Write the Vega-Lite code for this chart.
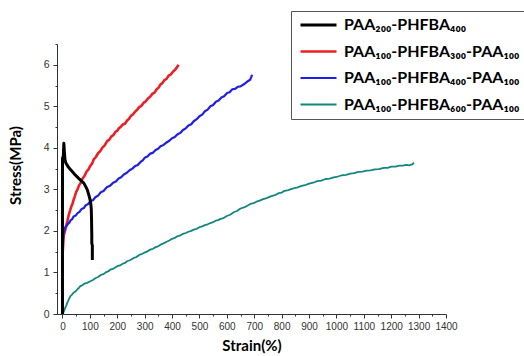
{
  "$schema": "https://vega.github.io/schema/vega-lite/v6.json",
  "width": 389,
  "height": 270,
  "autosize": "none",
  "padding": {"left": 57, "top": 44, "right": 78, "bottom": 42},
  "background": "white",
  "config": {"view": {"stroke": null}, "font": "Liberation Sans"},
  "data": {"values": [
    {"series":"r","strain":0,"stress":0},{"series":"r","strain":0,"stress":1.4},{"series":"r","strain":3,"stress":1.72},{"series":"r","strain":5,"stress":1.9},{"series":"r","strain":8,"stress":1.97},{"series":"r","strain":11,"stress":2.04},{"series":"r","strain":15,"stress":2.16},{"series":"r","strain":18,"stress":2.24},{"series":"r","strain":22,"stress":2.36},{"series":"r","strain":25,"stress":2.43},{"series":"r","strain":29,"stress":2.52},{"series":"r","strain":33,"stress":2.6},{"series":"r","strain":37,"stress":2.66},{"series":"r","strain":41,"stress":2.76},{"series":"r","strain":45,"stress":2.83},{"series":"r","strain":50,"stress":2.94},{"series":"r","strain":55,"stress":3.0},{"series":"r","strain":60,"stress":3.09},{"series":"r","strain":66,"stress":3.15},{"series":"r","strain":72,"stress":3.25},{"series":"r","strain":80,"stress":3.32},{"series":"r","strain":88,"stress":3.43},{"series":"r","strain":95,"stress":3.48},{"series":"r","strain":102,"stress":3.57},{"series":"r","strain":108,"stress":3.62},{"series":"r","strain":114,"stress":3.72},{"series":"r","strain":122,"stress":3.78},{"series":"r","strain":130,"stress":3.87},{"series":"r","strain":138,"stress":3.92},{"series":"r","strain":145,"stress":4.0},{"series":"r","strain":154,"stress":4.06},{"series":"r","strain":163,"stress":4.16},{"series":"r","strain":170,"stress":4.19},{"series":"r","strain":178,"stress":4.27},{"series":"r","strain":186,"stress":4.31},{"series":"r","strain":194,"stress":4.39},{"series":"r","strain":200,"stress":4.41},{"series":"r","strain":206,"stress":4.47},{"series":"r","strain":213,"stress":4.51},{"series":"r","strain":220,"stress":4.56},{"series":"r","strain":228,"stress":4.58},{"series":"r","strain":236,"stress":4.66},{"series":"r","strain":243,"stress":4.7},{"series":"r","strain":250,"stress":4.77},{"series":"r","strain":258,"stress":4.81},{"series":"r","strain":265,"stress":4.87},{"series":"r","strain":273,"stress":4.92},{"series":"r","strain":280,"stress":4.98},{"series":"r","strain":288,"stress":5.01},{"series":"r","strain":297,"stress":5.09},{"series":"r","strain":304,"stress":5.12},{"series":"r","strain":312,"stress":5.19},{"series":"r","strain":320,"stress":5.23},{"series":"r","strain":328,"stress":5.3},{"series":"r","strain":336,"stress":5.33},{"series":"r","strain":344,"stress":5.41},{"series":"r","strain":351,"stress":5.45},{"series":"r","strain":358,"stress":5.53},{"series":"r","strain":365,"stress":5.56},{"series":"r","strain":372,"stress":5.63},{"series":"r","strain":380,"stress":5.66},{"series":"r","strain":388,"stress":5.74},{"series":"r","strain":396,"stress":5.77},{"series":"r","strain":404,"stress":5.84},{"series":"r","strain":411,"stress":5.88},{"series":"r","strain":419,"stress":5.95},{"series":"r","strain":424,"stress":6.0},
    {"series":"b","strain":0,"stress":0},{"series":"b","strain":0,"stress":1.75},{"series":"b","strain":2,"stress":1.82},{"series":"b","strain":4,"stress":1.95},{"series":"b","strain":7,"stress":2.02},{"series":"b","strain":11,"stress":2.1},{"series":"b","strain":15,"stress":2.12},{"series":"b","strain":20,"stress":2.17},{"series":"b","strain":25,"stress":2.2},{"series":"b","strain":30,"stress":2.26},{"series":"b","strain":35,"stress":2.28},{"series":"b","strain":41,"stress":2.35},{"series":"b","strain":48,"stress":2.37},{"series":"b","strain":55,"stress":2.43},{"series":"b","strain":62,"stress":2.46},{"series":"b","strain":70,"stress":2.53},{"series":"b","strain":78,"stress":2.55},{"series":"b","strain":85,"stress":2.62},{"series":"b","strain":94,"stress":2.65},{"series":"b","strain":102,"stress":2.72},{"series":"b","strain":111,"stress":2.74},{"series":"b","strain":120,"stress":2.81},{"series":"b","strain":130,"stress":2.85},{"series":"b","strain":140,"stress":2.93},{"series":"b","strain":150,"stress":2.96},{"series":"b","strain":163,"stress":3.06},{"series":"b","strain":174,"stress":3.09},{"series":"b","strain":185,"stress":3.16},{"series":"b","strain":195,"stress":3.19},{"series":"b","strain":205,"stress":3.26},{"series":"b","strain":214,"stress":3.29},{"series":"b","strain":224,"stress":3.36},{"series":"b","strain":235,"stress":3.4},{"series":"b","strain":245,"stress":3.46},{"series":"b","strain":255,"stress":3.5},{"series":"b","strain":265,"stress":3.56},{"series":"b","strain":275,"stress":3.59},{"series":"b","strain":285,"stress":3.66},{"series":"b","strain":293,"stress":3.7},{"series":"b","strain":300,"stress":3.76},{"series":"b","strain":310,"stress":3.79},{"series":"b","strain":320,"stress":3.86},{"series":"b","strain":330,"stress":3.88},{"series":"b","strain":340,"stress":3.95},{"series":"b","strain":349,"stress":3.98},{"series":"b","strain":358,"stress":4.04},{"series":"b","strain":369,"stress":4.07},{"series":"b","strain":380,"stress":4.13},{"series":"b","strain":390,"stress":4.17},{"series":"b","strain":400,"stress":4.23},{"series":"b","strain":410,"stress":4.26},{"series":"b","strain":419,"stress":4.32},{"series":"b","strain":430,"stress":4.36},{"series":"b","strain":440,"stress":4.43},{"series":"b","strain":450,"stress":4.47},{"series":"b","strain":460,"stress":4.54},{"series":"b","strain":470,"stress":4.57},{"series":"b","strain":479,"stress":4.64},{"series":"b","strain":490,"stress":4.69},{"series":"b","strain":500,"stress":4.76},{"series":"b","strain":510,"stress":4.8},{"series":"b","strain":520,"stress":4.88},{"series":"b","strain":530,"stress":4.92},{"series":"b","strain":540,"stress":5.0},{"series":"b","strain":550,"stress":5.03},{"series":"b","strain":560,"stress":5.11},{"series":"b","strain":570,"stress":5.14},{"series":"b","strain":580,"stress":5.21},{"series":"b","strain":590,"stress":5.24},{"series":"b","strain":601,"stress":5.32},{"series":"b","strain":610,"stress":5.34},{"series":"b","strain":620,"stress":5.41},{"series":"b","strain":630,"stress":5.42},{"series":"b","strain":640,"stress":5.47},{"series":"b","strain":650,"stress":5.48},{"series":"b","strain":662,"stress":5.53},{"series":"b","strain":670,"stress":5.57},{"series":"b","strain":678,"stress":5.61},{"series":"b","strain":685,"stress":5.64},{"series":"b","strain":690,"stress":5.72},{"series":"b","strain":692,"stress":5.76},
    {"series":"t","strain":0,"stress":0},{"series":"t","strain":5,"stress":0.06},{"series":"t","strain":10,"stress":0.15},{"series":"t","strain":14,"stress":0.2},{"series":"t","strain":17,"stress":0.27},{"series":"t","strain":20,"stress":0.3},{"series":"t","strain":23,"stress":0.35},{"series":"t","strain":26,"stress":0.39},{"series":"t","strain":29,"stress":0.43},{"series":"t","strain":34,"stress":0.46},{"series":"t","strain":40,"stress":0.51},{"series":"t","strain":47,"stress":0.54},{"series":"t","strain":54,"stress":0.59},{"series":"t","strain":60,"stress":0.63},{"series":"t","strain":65,"stress":0.67},{"series":"t","strain":72,"stress":0.69},{"series":"t","strain":80,"stress":0.73},{"series":"t","strain":90,"stress":0.75},{"series":"t","strain":102,"stress":0.79},{"series":"t","strain":111,"stress":0.82},{"series":"t","strain":120,"stress":0.86},{"series":"t","strain":130,"stress":0.89},{"series":"t","strain":140,"stress":0.94},{"series":"t","strain":150,"stress":0.96},{"series":"t","strain":160,"stress":1.01},{"series":"t","strain":168,"stress":1.03},{"series":"t","strain":175,"stress":1.07},{"series":"t","strain":188,"stress":1.1},{"series":"t","strain":200,"stress":1.15},{"series":"t","strain":210,"stress":1.17},{"series":"t","strain":220,"stress":1.21},{"series":"t","strain":228,"stress":1.23},{"series":"t","strain":236,"stress":1.27},{"series":"t","strain":248,"stress":1.3},{"series":"t","strain":260,"stress":1.35},{"series":"t","strain":270,"stress":1.37},{"series":"t","strain":280,"stress":1.42},{"series":"t","strain":288,"stress":1.44},{"series":"t","strain":297,"stress":1.47},{"series":"t","strain":308,"stress":1.5},{"series":"t","strain":320,"stress":1.55},{"series":"t","strain":330,"stress":1.57},{"series":"t","strain":340,"stress":1.61},{"series":"t","strain":349,"stress":1.63},{"series":"t","strain":358,"stress":1.67},{"series":"t","strain":369,"stress":1.7},{"series":"t","strain":380,"stress":1.74},{"series":"t","strain":390,"stress":1.77},{"series":"t","strain":400,"stress":1.81},{"series":"t","strain":410,"stress":1.83},{"series":"t","strain":419,"stress":1.87},{"series":"t","strain":430,"stress":1.89},{"series":"t","strain":440,"stress":1.93},{"series":"t","strain":450,"stress":1.95},{"series":"t","strain":460,"stress":1.98},{"series":"t","strain":470,"stress":2.0},{"series":"t","strain":479,"stress":2.03},{"series":"t","strain":490,"stress":2.05},{"series":"t","strain":500,"stress":2.09},{"series":"t","strain":510,"stress":2.11},{"series":"t","strain":520,"stress":2.14},{"series":"t","strain":530,"stress":2.16},{"series":"t","strain":540,"stress":2.19},{"series":"t","strain":550,"stress":2.21},{"series":"t","strain":560,"stress":2.25},{"series":"t","strain":568,"stress":2.26},{"series":"t","strain":577,"stress":2.29},{"series":"t","strain":588,"stress":2.31},{"series":"t","strain":600,"stress":2.36},{"series":"t","strain":612,"stress":2.39},{"series":"t","strain":625,"stress":2.45},{"series":"t","strain":637,"stress":2.48},{"series":"t","strain":650,"stress":2.54},{"series":"t","strain":668,"stress":2.58},{"series":"t","strain":686,"stress":2.65},{"series":"t","strain":698,"stress":2.67},{"series":"t","strain":710,"stress":2.71},{"series":"t","strain":720,"stress":2.73},{"series":"t","strain":730,"stress":2.76},{"series":"t","strain":745,"stress":2.79},{"series":"t","strain":760,"stress":2.83},{"series":"t","strain":775,"stress":2.86},{"series":"t","strain":790,"stress":2.91},{"series":"t","strain":800,"stress":2.92},{"series":"t","strain":808,"stress":2.96},{"series":"t","strain":824,"stress":2.98},{"series":"t","strain":840,"stress":3.02},{"series":"t","strain":855,"stress":3.04},{"series":"t","strain":870,"stress":3.08},{"series":"t","strain":885,"stress":3.1},{"series":"t","strain":900,"stress":3.14},{"series":"t","strain":915,"stress":3.16},{"series":"t","strain":930,"stress":3.2},{"series":"t","strain":945,"stress":3.21},{"series":"t","strain":960,"stress":3.25},{"series":"t","strain":975,"stress":3.26},{"series":"t","strain":990,"stress":3.29},{"series":"t","strain":1005,"stress":3.31},{"series":"t","strain":1020,"stress":3.34},{"series":"t","strain":1035,"stress":3.35},{"series":"t","strain":1051,"stress":3.38},{"series":"t","strain":1065,"stress":3.39},{"series":"t","strain":1080,"stress":3.42},{"series":"t","strain":1095,"stress":3.43},{"series":"t","strain":1110,"stress":3.45},{"series":"t","strain":1125,"stress":3.46},{"series":"t","strain":1140,"stress":3.48},{"series":"t","strain":1155,"stress":3.49},{"series":"t","strain":1173,"stress":3.52},{"series":"t","strain":1187,"stress":3.52},{"series":"t","strain":1200,"stress":3.55},{"series":"t","strain":1215,"stress":3.55},{"series":"t","strain":1230,"stress":3.57},{"series":"t","strain":1242,"stress":3.57},{"series":"t","strain":1255,"stress":3.59},{"series":"t","strain":1266,"stress":3.58},{"series":"t","strain":1276,"stress":3.6},{"series":"t","strain":1283,"stress":3.64},
    {"series":"k","strain":0,"stress":0},{"series":"k","strain":0,"stress":3.75},{"series":"k","strain":3,"stress":3.8},{"series":"k","strain":5,"stress":4.11},{"series":"k","strain":7,"stress":3.9},{"series":"k","strain":9,"stress":3.72},{"series":"k","strain":12,"stress":3.64},{"series":"k","strain":20,"stress":3.55},{"series":"k","strain":30,"stress":3.47},{"series":"k","strain":45,"stress":3.36},{"series":"k","strain":60,"stress":3.26},{"series":"k","strain":78,"stress":3.15},{"series":"k","strain":90,"stress":3.0},{"series":"k","strain":97,"stress":2.85},{"series":"k","strain":102,"stress":2.72},{"series":"k","strain":105,"stress":2.55},{"series":"k","strain":106,"stress":2.3},{"series":"k","strain":107,"stress":1.9},{"series":"k","strain":107,"stress":1.7},{"series":"k","strain":109,"stress":1.65},{"series":"k","strain":109,"stress":1.3}
  ]},
  "layer": [
    {
      "mark": {"type": "line", "strokeJoin": "round"},
      "encoding": {
        "x": {"field": "strain", "type": "quantitative",
          "scale": {"domain": [-20, 1400], "nice": false, "zero": false},
          "axis": {"values": [0,100,200,300,400,500,600,700,800,900,1000,1100,1200,1300,1400], "format": "d", "labelOverlap": false, "labelFlush": false, "grid": false, "domainColor": "#333", "tickColor": "#333", "tickSize": 4, "labelPadding": 3, "labelFontSize": 10, "labelColor": "#333", "labelFont": "Liberation Sans", "title": "Strain(%)", "titleFont": "Lato", "titleFontWeight": "bold", "titleFontSize": 15, "titleColor": "#000", "titlePadding": 7}},
        "y": {"field": "stress", "type": "quantitative",
          "scale": {"domain": [0, 6.5], "nice": false, "zero": false},
          "axis": {"values": [0,1,2,3,4,5,6], "labelFlush": false, "grid": false, "domainColor": "#333", "tickColor": "#333", "tickSize": 4, "labelPadding": 4, "labelFontSize": 10.5, "labelColor": "#333", "labelFont": "Liberation Sans", "title": "Stress(MPa)", "titleFont": "Lato", "titleFontWeight": "bold", "titleFontSize": 15, "titleColor": "#000", "titleAngle": 270, "titleX": -42, "titleY": 121, "titleAlign": "center", "titleBaseline": "middle"}},
        "order": {"value": null},
        "color": {"field": "series", "type": "nominal",
          "scale": {"domain": ["k", "r", "b", "t"], "range": ["#000000", "#ec1f24", "#1f1fe6", "#12867f"]},
          "legend": {"orient": "none", "legendX": 234, "legendY": -33, "title": null, "strokeColor": "#555", "padding": 6, "symbolType": "M-1,0H7", "symbolSize": 81, "symbolStrokeWidth": 1.2, "labelFont": "Lato", "labelFontWeight": "bold", "labelFontSize": 16, "labelColor": "#000", "rowPadding": 10.5, "labelOffset": 31, "labelLimit": 300,
            "labelExpr": "{'k': 'PAA₂₀₀-PHFBA₄₀₀', 'r': 'PAA₁₀₀-PHFBA₃₀₀-PAA₁₀₀', 'b': 'PAA₁₀₀-PHFBA₄₀₀-PAA₁₀₀', 't': 'PAA₁₀₀-PHFBA₆₀₀-PAA₁₀₀'}[datum.value]",
            "encode": {"symbols": {"update": {"strokeWidth": {"signal": "datum.value === 'k' ? 3.5 : 1.2"}}}}}},
        "strokeWidth": {"field": "series", "type": "nominal", "scale": {"domain": ["k", "r", "b", "t"], "range": [3, 1.8, 1.8, 1.8]}, "legend": null}
      }
    },
    {
      "mark": {"type": "point", "opacity": 0},
      "encoding": {
        "x": {"field": "strain", "type": "quantitative",
          "axis": {"orient": "bottom", "values": [50,150,250,350,450,550,650,750,850,950,1050,1150,1250,1350], "grid": false, "domain": false, "labels": false, "tickColor": "#333", "tickSize": 2, "title": null}},
        "y": {"field": "stress", "type": "quantitative",
          "axis": {"orient": "left", "values": [0.5,1.5,2.5,3.5,4.5,5.5,6.5], "grid": false, "domain": false, "labels": false, "tickColor": "#333", "tickSize": 2, "title": null}}
      }
    }
  ],
  "resolve": {"axis": {"x": "independent", "y": "independent"}}
}
